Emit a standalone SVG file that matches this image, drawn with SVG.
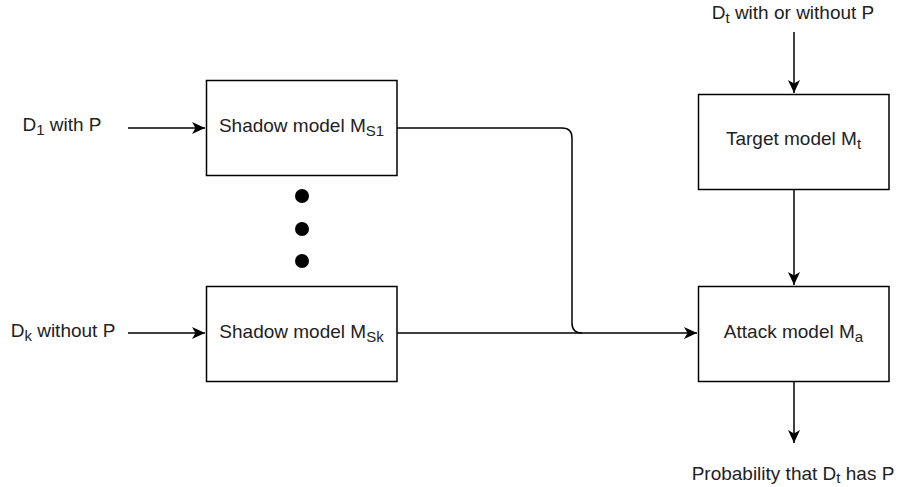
<svg xmlns="http://www.w3.org/2000/svg" width="900" height="487" viewBox="0 0 900 487">
<style>
.box{fill:#fff;stroke:#000;stroke-width:1.5}
.lbl{font-family:"Liberation Sans",Arial,sans-serif;font-size:19px;fill:#222;text-anchor:middle}
.sub{font-size:15px}
.edge{fill:none;stroke:#000;stroke-width:1.5}
</style>
<defs>
<marker id="arr" markerUnits="userSpaceOnUse" markerWidth="16" markerHeight="14" refX="13" refY="6" orient="auto">
<path d="M0,0 L13,6 L0,12 L3.5,6 z" fill="#000"/>
</marker>
</defs>
<rect width="900" height="487" fill="#fff"/>
<g id="connectors">
<path class="edge" d="M128,128 H205" marker-end="url(#arr)"/>
<path class="edge" d="M128,333 H205" marker-end="url(#arr)"/>
<path class="edge" d="M397,128 H562 Q572,128 572,138 V323 Q572,333 582,333"/>
<path class="edge" d="M397,333 H697" marker-end="url(#arr)"/>
<path class="edge" d="M794,32 V93" marker-end="url(#arr)"/>
<path class="edge" d="M794,189.5 V285" marker-end="url(#arr)"/>
<path class="edge" d="M794,381.5 V443" marker-end="url(#arr)"/>
</g>
<g id="input1"><text class="lbl" x="62" y="131">D<tspan class="sub" dy="4">1</tspan><tspan dy="-4"> with P</tspan></text></g>
<g id="inputk"><text class="lbl" x="63" y="337">D<tspan class="sub" dy="4">k</tspan><tspan dy="-4"> without P</tspan></text></g>
<g id="shadow1"><rect class="box" x="206.5" y="80.5" width="190.5" height="95"/><text class="lbl" x="301.5" y="132">Shadow model M<tspan class="sub" dy="4">S1</tspan></text></g>
<g id="shadowk"><rect class="box" x="206.5" y="286.5" width="190.5" height="95"/><text class="lbl" x="301.5" y="338">Shadow model M<tspan class="sub" dy="4">Sk</tspan></text></g>
<g id="dots"><circle cx="302" cy="196" r="7"/><circle cx="302" cy="229" r="7"/><circle cx="302" cy="261" r="7"/></g>
<g id="dtinput"><text class="lbl" x="793" y="18.5">D<tspan class="sub" dy="4">t</tspan><tspan dy="-4"> with or without P</tspan></text></g>
<g id="target"><rect class="box" x="698.5" y="94.5" width="190.5" height="95"/><text class="lbl" x="793.5" y="145">Target model M<tspan class="sub" dy="4">t</tspan></text></g>
<g id="attack"><rect class="box" x="698.5" y="286.5" width="190.5" height="95"/><text class="lbl" x="793.5" y="338">Attack model M<tspan class="sub" dy="4">a</tspan></text></g>
<g id="output"><text class="lbl" x="793" y="480">Probability that D<tspan class="sub" dy="3">t</tspan><tspan dy="-3"> has P</tspan></text></g>
</svg>
